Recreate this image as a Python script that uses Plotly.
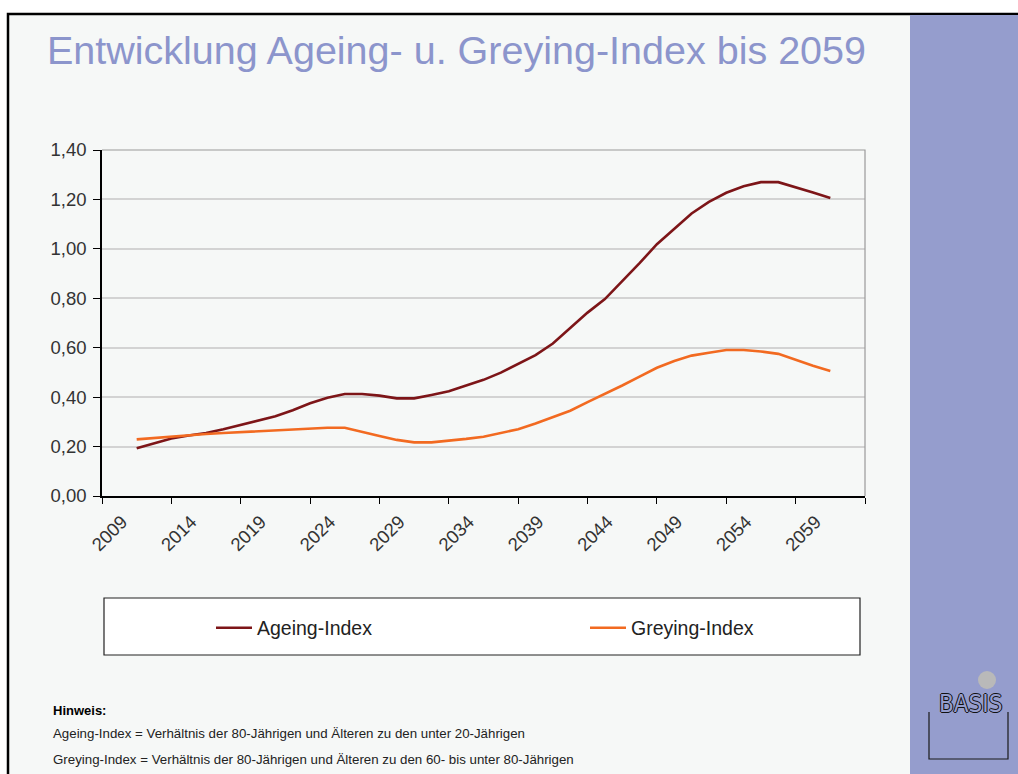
import plotly.graph_objects as go

# Excel-style category slots: 45 slots on the axis, a label every 4th slot
slots = list(range(2, 43))
tick_slots = list(range(0, 45, 4))
tick_labels = ["2009", "2014", "2019", "2024", "2029", "2034",
               "2039", "2044", "2049", "2054", "2059", ""]

ageing = [0.193, 0.213, 0.233, 0.245, 0.255, 0.270, 0.287, 0.305, 0.323, 0.347,
          0.375, 0.398, 0.413, 0.413, 0.406, 0.395, 0.395, 0.409, 0.424, 0.447,
          0.470, 0.499, 0.535, 0.570, 0.617, 0.678, 0.742, 0.797, 0.868, 0.942,
          1.019, 1.082, 1.143, 1.190, 1.227, 1.253, 1.270, 1.270, 1.250, 1.228,
          1.206]
greying = [0.229, 0.235, 0.240, 0.246, 0.251, 0.255, 0.259, 0.262, 0.264, 0.269,
           0.275, 0.276, 0.276, 0.261, 0.243, 0.227, 0.217, 0.217, 0.223, 0.231,
           0.240, 0.254, 0.270, 0.293, 0.318, 0.345, 0.380, 0.413, 0.447, 0.483,
           0.519, 0.546, 0.568, 0.580, 0.591, 0.591, 0.585, 0.575, 0.550, 0.527,
           0.506]

FONT = "Liberation Sans, Arial, sans-serif"
W, H = 1018, 774
L, T = 102, 150
R = W - 865
B = H - 496
PW, PH = W - L - R, H - T - B


# page pixel position -> paper coords (for slide decoration only)
def px(x):
    return (x - L) / PW


def py(y):
    return (H - B - y) / PH


fig = go.Figure()

fig.add_trace(go.Scatter(
    x=slots, y=ageing, name="Ageing-Index", mode="lines",
    line=dict(color="#7d1518", width=2.6), legend="legend",
))
fig.add_trace(go.Scatter(
    x=slots, y=greying, name="Greying-Index", mode="lines",
    line=dict(color="#f26a21", width=2.6), legend="legend2",
))

shapes = [
    # slide background with black frame
    dict(type="rect", xref="paper", yref="paper", x0=px(8), x1=px(1040),
         y0=py(14), y1=py(800), fillcolor="#f6f8f7",
         line=dict(color="black", width=2.5), layer="below"),
    # purple side panel
    dict(type="rect", xref="paper", yref="paper", x0=px(910), x1=px(1040),
         y0=py(15), y1=py(800), fillcolor="#959dcd", line=dict(width=0),
         layer="below"),
    # plot area frame (top and right in grey)
    dict(type="path", xref="paper", yref="paper",
         path="M 0 1 L 1 1 L 1 0", line=dict(color="#9a9a9a", width=1.2)),
    # legend box
    dict(type="rect", xref="paper", yref="paper", x0=px(104), x1=px(860),
         y0=py(598), y1=py(655), fillcolor="white",
         line=dict(color="#222222", width=1.2), layer="below"),
    # logo: grey dot and box
    dict(type="circle", xref="paper", yref="paper", x0=px(978), x1=px(996),
         y0=py(671), y1=py(689), fillcolor="#b9b9b9", line=dict(width=0)),
    dict(type="path", xref="paper", yref="paper",
         path=(f"M {px(929)} {py(712)} L {px(929)} {py(759)} "
               f"L {px(1008)} {py(759)} L {px(1008)} {py(712)}"),
         line=dict(color="#1a1a1a", width=1.2)),
]

annotations = [
    dict(text="Entwicklung Ageing- u. Greying-Index bis 2059", xref="paper",
         yref="paper", x=px(45), y=py(50), xanchor="left", yanchor="middle",
         showarrow=False, font=dict(family=FONT, size=39.5, color="#8c95cc")),
    dict(text="<b>Hinweis:</b>", xref="paper", yref="paper", x=px(51),
         y=py(710), xanchor="left", yanchor="middle", showarrow=False,
         font=dict(family=FONT, size=13, color="black")),
    dict(text="Ageing-Index = Verhältnis der 80-Jährigen und Älteren zu den unter 20-Jährigen",
         xref="paper", yref="paper", x=px(51), y=py(733), xanchor="left",
         yanchor="middle", showarrow=False,
         font=dict(family=FONT, size=13.3, color="#222222")),
    dict(text="Greying-Index = Verhältnis der 80-Jährigen und Älteren zu den 60- bis unter 80-Jährigen",
         xref="paper", yref="paper", x=px(51), y=py(759), xanchor="left",
         yanchor="middle", showarrow=False,
         font=dict(family=FONT, size=13.3, color="#222222")),
    dict(text="BASIS", xref="paper", yref="paper", x=px(970), y=py(704),
         xanchor="center", yanchor="middle", showarrow=False,
         font=dict(family="DejaVu Sans Condensed", size=24, color="#959dcd",
                   shadow="1px 0 0 #111, -1px 0 0 #111, 0 1px 0 #111, 0 -1px 0 #111")),
]

legend_common = dict(
    orientation="h", xanchor="left", yanchor="middle",
    bgcolor="rgba(0,0,0,0)", borderwidth=0, itemwidth=36,
    font=dict(family=FONT, size=19.5, color="#222222"),
)

fig.update_layout(
    width=W, height=H,
    margin=dict(l=L, r=R, t=T, b=B),
    paper_bgcolor="white",
    plot_bgcolor="#f6f8f7",
    separators=",.",
    font=dict(family=FONT, color="#333333"),
    shapes=shapes,
    annotations=annotations,
    showlegend=True,
    legend=dict(x=px(211), y=py(628), **legend_common),
    legend2=dict(x=px(585), y=py(628), **legend_common),
    xaxis=dict(
        range=[0, 44], tickvals=tick_slots, ticktext=tick_labels,
        tickangle=-45, ticks="outside", ticklen=6, tickcolor="black",
        ticklabelshift=20,
        showline=True, linecolor="black", linewidth=1.5,
        showgrid=False, zeroline=False,
        tickfont=dict(family=FONT, size=18.5, color="#333333"),
    ),
    yaxis=dict(
        range=[0, 1.4], dtick=0.2, tickformat=".2f",
        ticks="outside", ticklen=7, tickcolor="black", ticklabelstandoff=3,
        showline=True, linecolor="black", linewidth=1.5,
        showgrid=True, gridcolor="#d3d3d3", gridwidth=1.5, zeroline=False,
        tickfont=dict(family=FONT, size=18.5, color="#333333"),
    ),
)

# drop the default page margin so the slide fills the window
fig.write_html(
    "out.html",
    config={"displayModeBar": False},
    post_script="document.body.style.margin='0';"
                "document.documentElement.style.overflow='hidden';",
)
